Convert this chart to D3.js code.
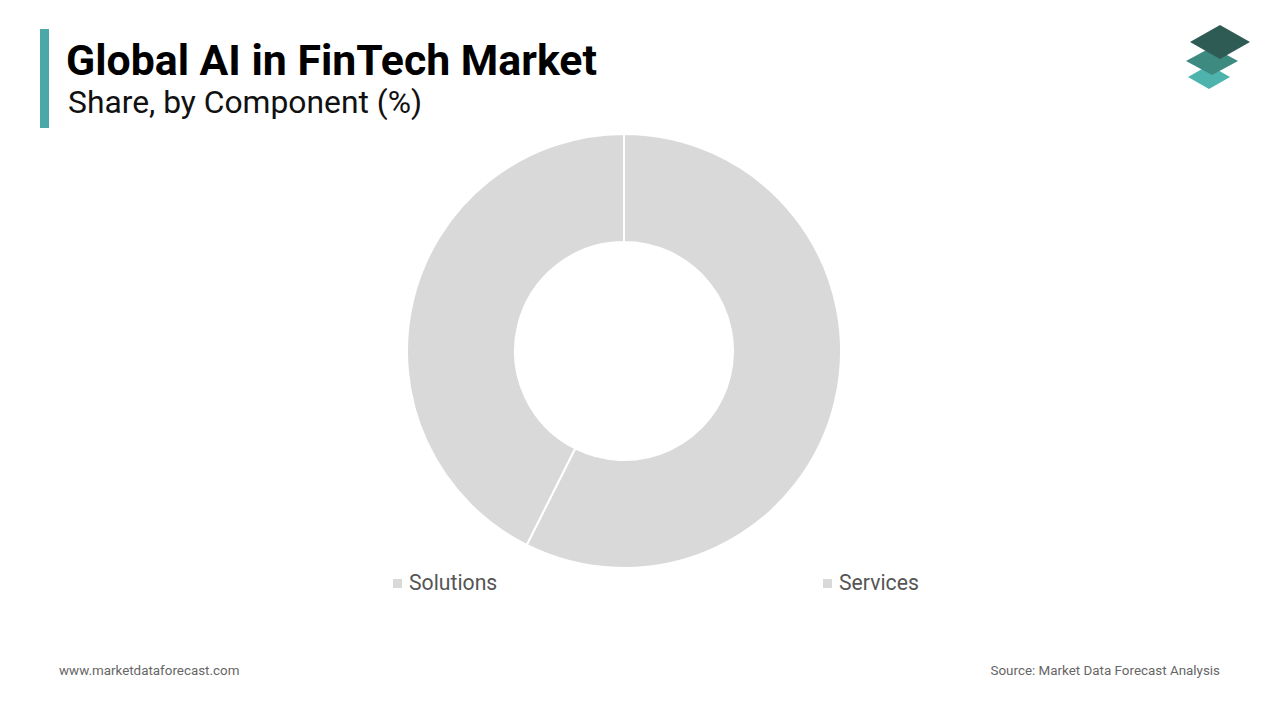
<!DOCTYPE html>
<html><head><meta charset="utf-8">
<script src="https://cdn.jsdelivr.net/npm/d3@7"></script>
<style>body{margin:0;background:#fff;font-family:Roboto,sans-serif}</style></head>
<body><svg id="c" width="1280" height="720"></svg>
<script>
const categories = ["Solutions","Services"];
const values = [57.4, 42.6];
const colors = ["#d9d9d9","#d9d9d9"];

const svg = d3.select("#c");
svg.append("rect").attr("x",40).attr("y",29).attr("width",9).attr("height",99).attr("fill","#4aa8a8");
svg.append("text").attr("x",66).attr("y",75).attr("font-size",42.8).attr("font-weight",700).attr("fill","#000").text("Global AI in FinTech Market");
svg.append("text").attr("x",68).attr("y",113).attr("font-size",31.8).attr("fill","#111").text("Share, by Component (%)");

const pie = d3.pie().sort(null).value(d=>d)(values);
const arc = d3.arc().innerRadius(109).outerRadius(217);
const g = svg.append("g").attr("transform","translate(624,351)");
g.selectAll("path").data(pie).join("path").attr("d",arc).attr("fill",(d,i)=>colors[i]).attr("stroke","#fff").attr("stroke-width",2);

const lx=[393,823];
categories.forEach((c,i)=>{
  svg.append("rect").attr("x",lx[i]).attr("y",579).attr("width",9).attr("height",9).attr("fill",colors[i]);
  svg.append("text").attr("x",lx[i]+16).attr("y",590).attr("font-size",21.2).attr("fill","#555").text(c);
});
svg.append("text").attr("x",59).attr("y",675).attr("font-size",13.4).attr("fill","#666").text("www.marketdataforecast.com");
svg.append("text").attr("x",1220).attr("y",675).attr("font-size",13.4).attr("fill","#666").attr("text-anchor","end").text("Source: Market Data Forecast Analysis");

const lg = svg.append("g");
const dia=(cx,cy,w,h,f)=>lg.append("path").attr("d",`M${cx-w},${cy}L${cx},${cy-h}L${cx+w},${cy}L${cx},${cy+h}Z`).attr("fill",f);
dia(1209,77,21,12,"#4fb3ad");
dia(1212,61,26,14,"#3d8a80");
dia(1220,42,30,17,"#2f5b55");
</script></body></html>
